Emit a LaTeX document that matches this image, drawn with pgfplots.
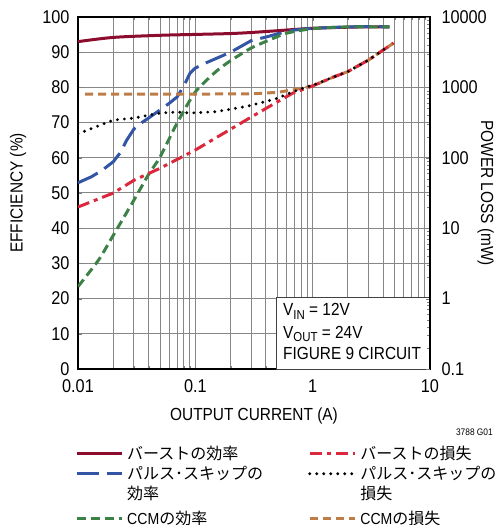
\documentclass[border=0pt]{standalone}
\usepackage{fontspec}
\setmainfont{Liberation Sans}[FakeStretch=0.88]
\newfontfamily\cjk{Noto Sans CJK JP}
\usepackage{pgfplots}
\pgfplotsset{compat=1.18}
\definecolor{burstE}{RGB}{140,12,45}
\definecolor{pulseE}{RGB}{50,85,165}
\definecolor{ccmE}{RGB}{60,130,70}
\definecolor{burstL}{RGB}{220,40,60}
\definecolor{ccmL}{RGB}{190,125,70}
\definecolor{gridc}{RGB}{135,135,135}
\pgfplotsset{
 beff/.style={color=burstE, line width=3pt},
 peff/.style={color=pulseE, line width=3pt, dash pattern=on 22pt off 8pt},
 ceff/.style={color=ccmE, line width=3pt, dash pattern=on 9pt off 5pt},
 bloss/.style={color=burstL, line width=3pt, dash pattern=on 12pt off 5pt on 4pt off 5pt},
 ploss/.style={color=black, line width=3.2pt, dash pattern=on 0pt off 7pt, line cap=round},
 closs/.style={color=ccmL, line width=3pt, dash pattern=on 8pt off 5pt},
}
\begin{document}
\begin{tikzpicture}[x=1pt,y=1pt]
\path[use as bounding box] (-78,-156) rectangle (419,369);
\begin{axis}[
 at={(0,0)}, anchor=south west, scale only axis, width=352pt, height=352pt,
 xmode=log, xmin=0.01, xmax=10, ymin=0, ymax=100,
 xtick={0.01,0.1,1,10}, xticklabels={0.01,0.1,1,10},
 minor xtick={0.02,0.03,0.04,0.05,0.06,0.07,0.08,0.09,0.2,0.3,0.4,0.5,0.6,0.7,0.8,0.9,2,3,4,5,6,7,8,9},
 ytick={0,10,...,100},
 ytick pos=left, tick align=inside,
 grid=both, major grid style={gridc, line width=1pt}, minor grid style={gridc, line width=1pt},
 axis line style={black, line width=1.5pt},
 /pgf/number format/assume math mode=true,
 tick label style={font=\fontsize{18.5}{20}\selectfont},
 xticklabel style={yshift=-7pt},
 yticklabel style={xshift=-5pt},
 label style={font=\fontsize{17.5}{20}\selectfont},
 xlabel={OUTPUT CURRENT (A)},
 xlabel style={at={(axis description cs:0.5,0)}, anchor=base, yshift=-51pt},
 ylabel={EFFICIENCY (\%)},
 ylabel style={at={(axis description cs:-0.1705,0.5)}, anchor=center},
]
\addplot[beff, smooth] coordinates {(0.01,93.0) (0.02,94.2) (0.05,94.8) (0.1,95.05) (0.2,95.3) (0.3,95.6) (0.5,96.1) (1,96.8) (2,97.1) (3,97.2) (4.5,97.2)};
\addplot[peff] coordinates {(0.01,52.9) (0.013,54.6) (0.016,56.4) (0.02,58.9) (0.023,61.5) (0.026,65.0) (0.03,68.2) (0.035,70.0) (0.04,71.3) (0.05,73.6) (0.06,75.5) (0.07,77.3) (0.08,80.5) (0.09,84.0) (0.1,85.5) (0.12,86.8) (0.15,88.2) (0.2,90.0) (0.3,93.3) (0.4,94.3) (0.5,95.2) (0.7,96.3) (1,96.8) (2,97.2) (3,97.3) (4.5,97.2)};
\addplot[ceff, smooth, tension=0.4] coordinates {(0.01,23.4) (0.015,31.0) (0.02,38.0) (0.03,48.0) (0.04,55.3) (0.05,60.2) (0.07,69.9) (0.1,78.7) (0.15,84.5) (0.2,87.6) (0.3,91.2) (0.43,93.5) (0.6,95.4) (1,96.7) (2,97.2) (4.5,97.2)};
\draw[draw=black!75, line width=1pt, fill=white] (axis cs:0.488,0) rectangle (axis cs:10,20.2);
\node[anchor=base west, font=\fontsize{17.5}{20}\selectfont, inner sep=0pt] at (rel axis cs:0.5824,0.1506) {V\raisebox{-3.5pt}{\fontsize{13}{13}\selectfont IN} = 12V};
\node[anchor=base west, font=\fontsize{17.5}{20}\selectfont, inner sep=0pt] at (rel axis cs:0.5824,0.088) {V\raisebox{-3.5pt}{\fontsize{13}{13}\selectfont OUT} = 24V};
\node[anchor=base west, font=\fontsize{17.5}{20}\selectfont, inner sep=0pt] at (rel axis cs:0.5824,0.0284) {FIGURE 9 CIRCUIT};
\end{axis}
\begin{axis}[
 at={(0,0)}, anchor=south west, scale only axis, width=352pt, height=352pt,
 xmode=log, ymode=log, xmin=0.01, xmax=10, ymin=0.1, ymax=10000,
 axis x line=none, axis y line*=right,
 ytick={0.1,1,10,100,1000,10000}, yticklabels={0.1,1,10,100,1000,10000},
 minor ytick={}, tick align=inside,
 axis line style={black, line width=1.5pt},
 /pgf/number format/assume math mode=true,
 tick label style={font=\fontsize{18.5}{20}\selectfont},
 yticklabel style={xshift=8pt},
 label style={font=\fontsize{17.5}{20}\selectfont},
 ylabel={POWER LOSS (mW)},
 ylabel style={at={(axis description cs:1.158,0.5)}, anchor=center, rotate=180},
 legend columns=2,
 legend style={draw=none, fill=none, at={(axis description cs:0,0)}, anchor=north west, xshift=-3pt, yshift=-76pt,
   inner xsep=0pt, inner ysep=0pt, nodes={inner sep=0pt, text depth=, text height=}, cells={anchor=base west},
   font=\cjk\fontsize{16}{20}\selectfont, row sep=2pt,
   /tikz/every odd column/.append style={column sep=4pt},
   /tikz/every even column/.append style={column sep=11pt}},
 legend image code/.code={\draw[#1] (0pt,5.5pt) -- (45pt,5.5pt);},
]
\addplot[closs, forget plot] coordinates {(0.0115,804) (0.1,804) (0.3,810) (0.5,850) (0.7,930) (1,1050) (1.5,1400) (2,1680) (3,2455) (4.9,4270)};
\addlegendimage{beff}
\addlegendentry{\parbox[t]{170pt}{\rule{0pt}{14pt}バーストの効率\rule[-4pt]{0pt}{4pt}}}
\addplot[bloss] coordinates {(0.01,20) (0.02,31.6) (0.03,48) (0.05,71) (0.1,129) (0.3,380) (0.5,624) (0.68,832) (1,1050) (1.5,1400) (2,1680) (3,2455) (4.9,4270)};
\addlegendentry{\parbox[t]{140pt}{\rule{0pt}{14pt}バーストの損失\rule[-4pt]{0pt}{4pt}}}
\addlegendimage{peff}
\addlegendentry{\parbox[t]{170pt}{\rule{0pt}{14pt}パルス･スキップの\\効率\rule[-9pt]{0pt}{9pt}}}
\addplot[ploss] coordinates {(0.01,219) (0.015,285) (0.02,343) (0.03,367) (0.05,432) (0.07,447) (0.09,432) (0.15,452) (0.2,490) (0.28,543) (0.48,684) (0.64,832) (0.86,1000) (1,1070) (1.5,1400) (2,1680) (3,2455) (4.2,3630)};
\addlegendentry{\parbox[t]{140pt}{\rule{0pt}{14pt}パルス･スキップの\\損失\rule[-9pt]{0pt}{9pt}}}
\addlegendimage{ceff}
\addlegendentry{\parbox[t]{170pt}{\rule{0pt}{14pt}{\rmfamily CCM}の効率\rule[-4pt]{0pt}{4pt}}}
\addlegendimage{closs}
\addlegendentry{\parbox[t]{140pt}{\rule{0pt}{14pt}{\rmfamily CCM}の損失\rule[-4pt]{0pt}{4pt}}}
\end{axis}
\node[anchor=base east, font=\fontsize{9.5}{10}\selectfont, inner sep=0pt] at (415,-66) {3788 G01};
\end{tikzpicture}
\end{document}
